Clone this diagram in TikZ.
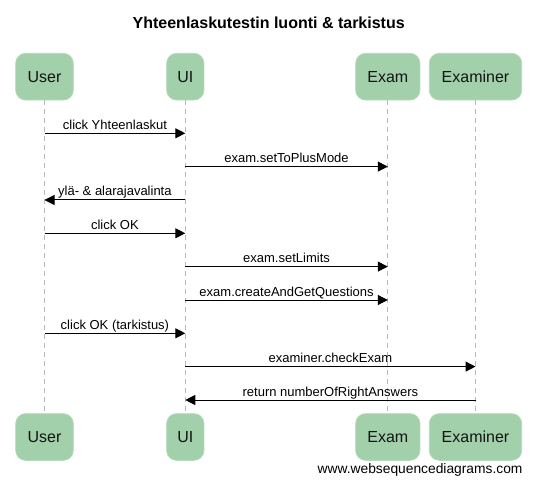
\documentclass[tikz,border=0pt]{standalone}
\usepackage{fontspec}
\setmainfont{Liberation Sans}
\usetikzlibrary{arrows.meta}
\definecolor{boxgreen}{RGB}{162,208,170}
\definecolor{boxedge}{RGB}{178,218,185}
\definecolor{lifegray}{RGB}{185,185,185}
\begin{document}
\begin{tikzpicture}[x=1pt,y=-1pt,
  participant/.style={fill=boxgreen, draw=boxedge, line width=0.8pt, rounded corners=10pt,
    minimum height=46.7pt, inner sep=0pt, font=\fontsize{16}{19}\selectfont, text=black!92},
  lifeline/.style={draw=lifegray, dash pattern=on 5pt off 4pt, line width=0.8pt},
  msg/.style={draw=black, line width=1pt, -{Triangle[length=10pt,width=10pt]}},
  lbl/.style={font=\fontsize{13}{15}\selectfont, anchor=base, inner sep=0pt, yshift=4pt}
]
\useasboundingbox (0,0) rectangle (536,484);

\node[font=\bfseries\fontsize{16}{19}\selectfont, anchor=base, inner sep=0pt] (title) at (268.7,28.3) {Yhteenlaskutestin luonti \& tarkistus};

% top participants
\node[participant, minimum width=57.6pt] (uT) at (44.5,76.7) {User};
\node[participant, minimum width=37.3pt] (iT) at (185.3,76.7) {UI};
\node[participant, minimum width=64.3pt] (eT) at (387.8,76.7) {Exam};
\node[participant, minimum width=92.4pt] (xT) at (475.5,76.7) {Examiner};
% bottom participants
\node[participant, minimum width=57.6pt] (uB) at (44.5,437) {User};
\node[participant, minimum width=37.3pt] (iB) at (185.3,437) {UI};
\node[participant, minimum width=64.3pt] (eB) at (387.8,437) {Exam};
\node[participant, minimum width=92.4pt] (xB) at (475.5,437) {Examiner};

% lifelines
\draw[lifeline] (uT.south) -- (uB.north);
\draw[lifeline] (iT.south) -- (iB.north);
\draw[lifeline] (eT.south) -- (eB.north);
\draw[lifeline] (xT.south) -- (xB.north);

% message rows
\coordinate (m1) at (0,133.3);
\coordinate (m2) at (0,166.6);
\coordinate (m3) at (0,200);
\coordinate (m4) at (0,233.3);
\coordinate (m5) at (0,266.6);
\coordinate (m6) at (0,300);
\coordinate (m7) at (0,333.3);
\coordinate (m8) at (0,366.6);
\coordinate (m9) at (0,400);

\draw[msg] (uT |- m1) -- (iT |- m1) node[midway, lbl] {click Yhteenlaskut};
\draw[msg] (iT |- m2) -- (eT |- m2) node[midway, lbl] {exam.setToPlusMode};
\draw[msg] (iT |- m3) -- (uT |- m3) node[midway, lbl] {ylä- \& alarajavalinta};
\draw[msg] (uT |- m4) -- (iT |- m4) node[midway, lbl] {click OK};
\draw[msg] (iT |- m5) -- (eT |- m5) node[midway, lbl] {exam.setLimits};
\draw[msg] (iT |- m6) -- (eT |- m6) node[midway, lbl] {exam.createAndGetQuestions};
\draw[msg] (uT |- m7) -- (iT |- m7) node[midway, lbl] {click OK (tarkistus)};
\draw[msg] (iT |- m8) -- (xT |- m8) node[midway, lbl] {examiner.checkExam};
\draw[msg] (xT |- m9) -- (iT |- m9) node[midway, lbl] {return numberOfRightAnswers};

\node[font=\fontsize{13.8}{16}\selectfont, anchor=base east, inner sep=0pt] (wm) at (522.7,473.3) {www.websequencediagrams.com};
\end{tikzpicture}
\end{document}
